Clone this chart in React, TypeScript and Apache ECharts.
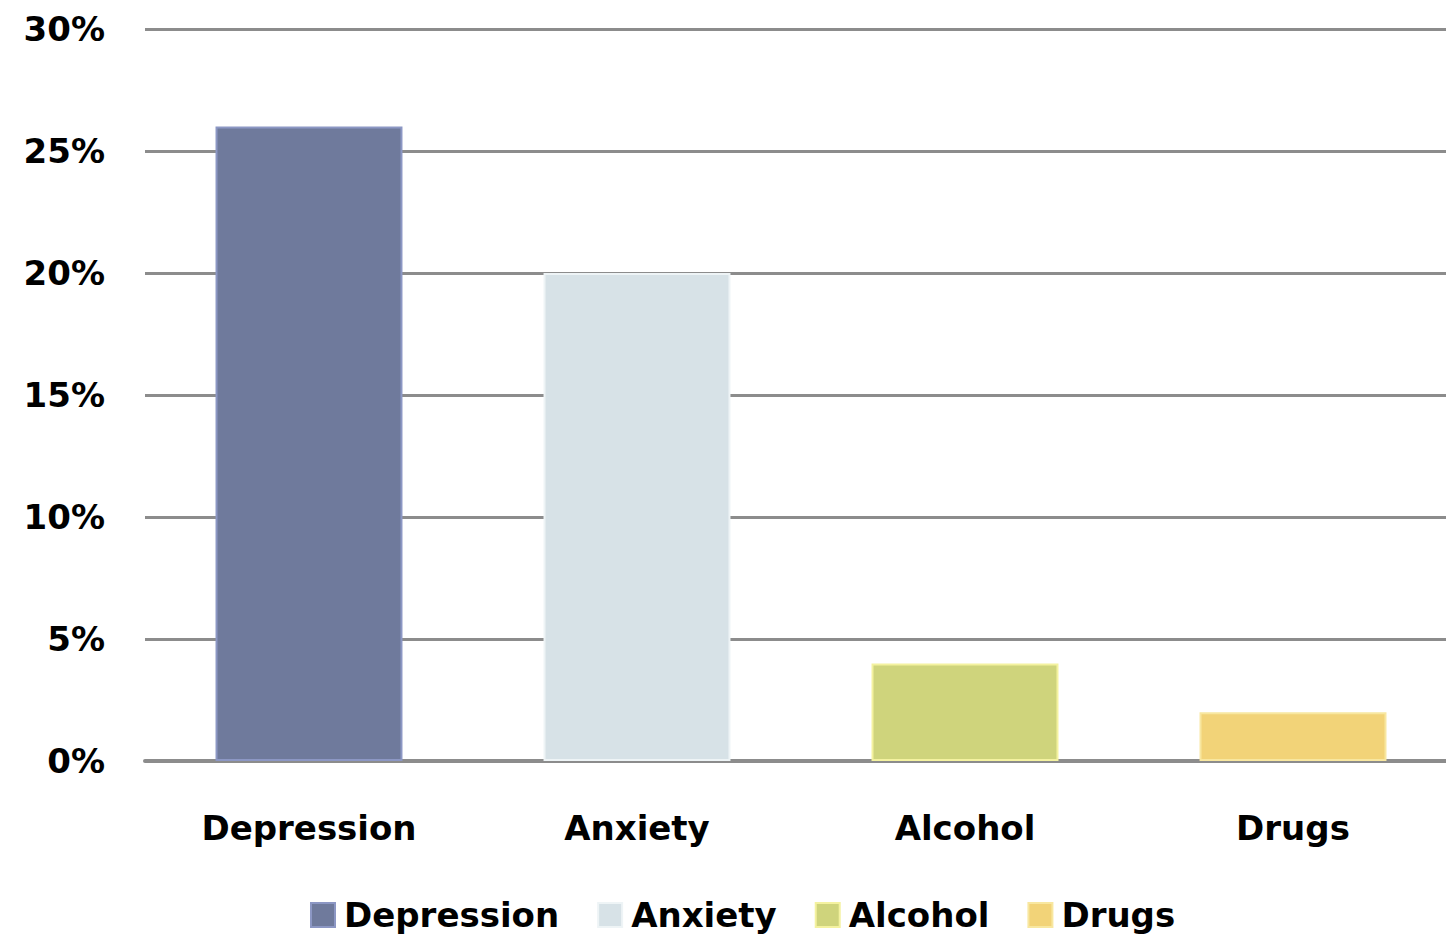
import React, { useEffect, useRef } from "react";
import * as echarts from "echarts";

const categories = ["Depression", "Anxiety", "Alcohol", "Drugs"];
const values = [26, 20, 4, 2];
const colors = ["#6F7A9C", "#D7E2E7", "#CFD47C", "#F2D378"];
const borders = ["#8C97C4", "#EEF4F6", "#F4F2A0", "#F8E7A0"];
const yTicks = [0, 5, 10, 15, 20, 25, 30];

export default function App() {
  const ref = useRef<HTMLDivElement>(null);
  useEffect(() => {
    document.body.style.margin = "0";
    const chart = echarts.init(ref.current!, null, { renderer: "svg" });
    const font = "DejaVu Sans";
    chart.setOption({
      animation: false,
      backgroundColor: "#ffffff",
      grid: { left: 145, right: -11, top: 29, bottom: 176, containLabel: false, outerBoundsMode: "none" },
      legend: {
        left: 305,
        top: 893,
        itemWidth: 24,
        itemHeight: 24,
        itemGap: 38,
        icon: "rect",
        textStyle: { fontFamily: font, fontSize: 34, fontWeight: "bold", color: "#000", padding: [0, 0, 0, 4] },
        data: categories,
      },
      xAxis: {
        type: "category",
        data: categories,
        axisLine: { show: true, lineStyle: { color: "#8C8C8C", width: 4 } },
        axisTick: { show: false },
        axisLabel: { fontFamily: font, fontSize: 34, fontWeight: "bold", color: "#000", margin: 50 },
      },
      yAxis: {
        type: "value",
        min: yTicks[0],
        max: yTicks[yTicks.length - 1],
        interval: 5,
        axisLine: { show: false },
        axisTick: { show: false },
        splitLine: { lineStyle: { color: "#8C8C8C", width: 3 } },
        axisLabel: { fontFamily: font, fontSize: 34, fontWeight: "bold", color: "#000", margin: 40, formatter: "{value}%" },
      },
      series: categories.map((name, i) => ({
        name,
        type: "bar",
        stack: "all",
        barWidth: "57%",
        itemStyle: { color: colors[i], borderColor: borders[i], borderWidth: 2 },
        data: categories.map((_, j) => (j === i ? values[i] : "-")),
      })),
    });
    return () => chart.dispose();
  }, []);
  return <div ref={ref} style={{ width: 1446, height: 937 }} />;
}
